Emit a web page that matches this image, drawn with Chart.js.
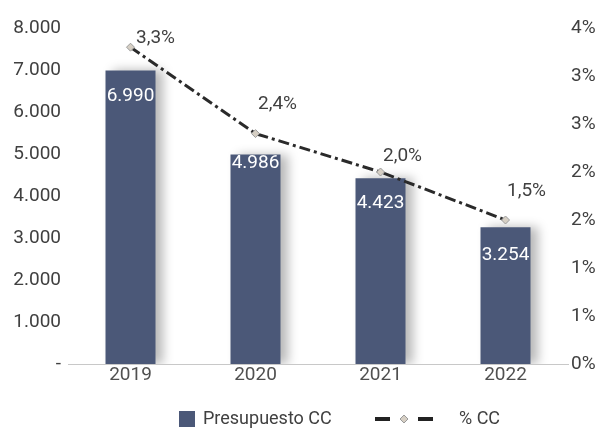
<!DOCTYPE html>
<html>
<head>
<meta charset="utf-8">
<script src="https://cdn.jsdelivr.net/npm/chart.js@4.4.0/dist/chart.umd.min.js"></script>
<style>
  html, body { margin: 0; padding: 0; background: #fff; }
</style>
</head>
<body>
<canvas id="chart" width="601" height="430"></canvas>
<script>
const years = ["2019", "2020", "2021", "2022"]
const presupuesto = [6990, 4986, 4423, 3254]
const pctCC = [3.3, 2.4, 2.0, 1.5]

const BAR_COLOR = "#4b5878"
const TEXT_COLOR = "#404040"
const FONT = "Roboto"

const thousands = v => String(v).replace(/\B(?=(\d{3})+(?!\d))/g, ".")
const pct = v => v.toFixed(1).replace(".", ",") + "%"

// soft shadow to the right of the bars
const barShadow = {
  id: "barShadow",
  beforeDatasetDraw(chart, args) {
    if (chart.getDatasetMeta(args.index).type !== "bar") return
    const ctx = chart.ctx
    ctx.save()
    ctx.shadowColor = "rgba(0,0,0,0.28)"
    ctx.shadowBlur = 10
    ctx.shadowOffsetX = 7
  },
  afterDatasetDraw(chart, args) {
    if (chart.getDatasetMeta(args.index).type !== "bar") return
    chart.ctx.restore()
  }
}

const valueLabels = {
  id: "valueLabels",
  afterDatasetsDraw(chart, args, opts) {
    const ctx = chart.ctx
    ctx.save()
    ctx.font = `19px ${FONT}`
    ctx.textAlign = "center"
    ctx.textBaseline = "middle"

    const bars = chart.getDatasetMeta(1).data
    ctx.fillStyle = "#ffffff"
    bars.forEach((el, i) => {
      ctx.fillText(thousands(presupuesto[i]), el.x, el.y + opts.barDy[i])
    })

    const pts = chart.getDatasetMeta(0).data
    ctx.fillStyle = TEXT_COLOR
    pts.forEach((el, i) => {
      ctx.fillText(pct(pctCC[i]), el.x + opts.pctDx[i], el.y + opts.pctDy[i])
    })
    ctx.restore()
  }
}

const bottomLegend = {
  id: "bottomLegend",
  afterDraw(chart) {
    const ctx = chart.ctx
    const y = 419
    ctx.save()
    ctx.font = `18px ${FONT}`
    ctx.textBaseline = "middle"
    ctx.fillStyle = BAR_COLOR
    ctx.fillRect(179, y - 8, 16, 16)
    ctx.fillStyle = TEXT_COLOR
    ctx.fillText(chart.data.datasets[1].label, 203, y)

    ctx.strokeStyle = "#222"
    ctx.lineWidth = 4
    ctx.beginPath()
    ctx.moveTo(375, y); ctx.lineTo(390, y)
    ctx.moveTo(418, y); ctx.lineTo(433, y)
    ctx.stroke()
    ctx.fillStyle = "#d6cfc4"
    ctx.strokeStyle = "#9a9a9a"
    ctx.lineWidth = 1
    ctx.beginPath()
    ctx.moveTo(404, y - 4); ctx.lineTo(408, y); ctx.lineTo(404, y + 4); ctx.lineTo(400, y)
    ctx.closePath()
    ctx.fill(); ctx.stroke()

    ctx.fillStyle = TEXT_COLOR
    ctx.fillText(chart.data.datasets[0].label, 459, y)
    ctx.restore()
  }
}

new Chart(document.getElementById("chart"), {
  type: "bar",
  data: {
    labels: years,
    datasets: [
      {
        type: "line",
        label: "% CC",
        data: pctCC,
        yAxisID: "y1",
        order: 0,
        borderColor: "#2a2a2a",
        borderWidth: 3,
        borderDash: [11, 4, 3, 4],
        pointStyle: "rectRot",
        pointRadius: 4,
        pointBackgroundColor: "#d6cfc4",
        pointBorderColor: "#9a9a9a",
        pointBorderWidth: 1,
        tension: 0
      },
      {
        type: "bar",
        label: "Presupuesto CC",
        data: presupuesto,
        yAxisID: "y",
        order: 1,
        backgroundColor: BAR_COLOR,
        barPercentage: 0.4,
        categoryPercentage: 1
      }
    ]
  },
  options: {
    responsive: false,
    devicePixelRatio: 1,
    animation: false,
    layout: { padding: { top: 28, bottom: 36, left: 0, right: 0 } },
    plugins: {
      legend: { display: false },
      tooltip: { enabled: false },
      valueLabels: {
        barDy: [26, 9, 25, 28],
        pctDx: [25, 22, 22, 21],
        pctDy: [-9, -29, -16, -29]
      }
    },
    scales: {
      x: {
        grid: { display: false, drawTicks: false },
        border: { color: "#c8c8c8", width: 1 },
        ticks: { color: "#505050", font: { family: FONT, size: 19 }, padding: 0 },
        afterFit: scale => { scale.height = 30 }
      },
      y: {
        position: "left",
        min: 0,
        max: 8000,
        grid: { display: false, drawTicks: false },
        border: { display: false },
        ticks: {
          stepSize: 1000,
          color: TEXT_COLOR,
          padding: 7,
          font: { family: FONT, size: 19 },
          callback: v => v === 0 ? "-" : thousands(v)
        },
        afterFit: scale => { scale.width = 68 }
      },
      y1: {
        position: "right",
        min: 0,
        max: 3.5,
        grid: { display: false, drawTicks: false },
        border: { display: false },
        ticks: {
          stepSize: 0.5,
          color: TEXT_COLOR,
          padding: 3,
          font: { family: FONT, size: 19 },
          callback: v => Math.round(v) + "%"
        },
        afterFit: scale => { scale.width = 33 }
      }
    }
  },
  plugins: [barShadow, valueLabels, bottomLegend]
})
</script>
</body>
</html>
